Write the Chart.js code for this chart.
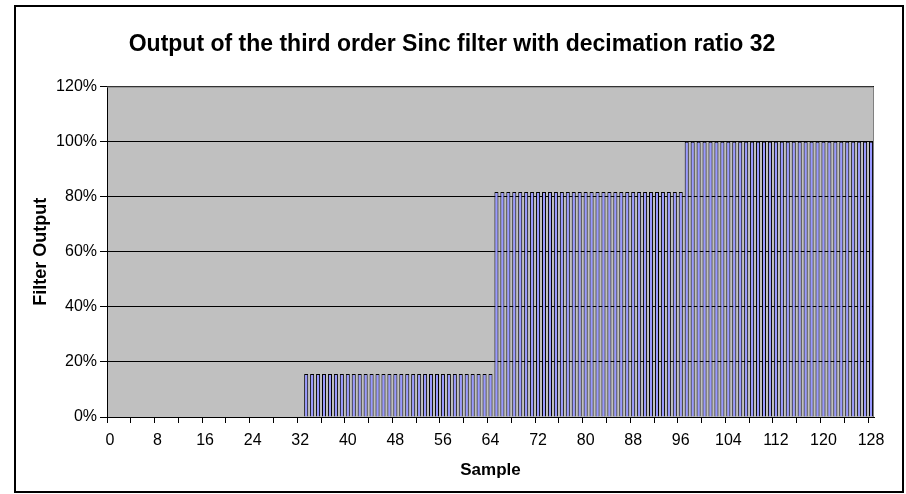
<!DOCTYPE html>
<html>
<head>
<meta charset="utf-8">
<script src="https://cdn.jsdelivr.net/npm/chart.js@4.4.1/dist/chart.umd.min.js"></script>
<style>
  html, body { margin: 0; padding: 0; background: #fff; }
  #wrap { width: 906px; height: 494px; position: relative; }
</style>
</head>
<body>
<div id="wrap"><canvas id="chart" width="906" height="494"></canvas></div>
<script>
// Sample index on the x axis (0 .. 128)
const samples = Array.from({ length: 129 }, (_, i) => i);

// Filter output per sample (fraction of full scale)
const filterOutput = [
  0, 0, 0, 0, 0, 0, 0, 0, 0, 0, 0, 0, 0, 0, 0, 0,
  0, 0, 0, 0, 0, 0, 0, 0, 0, 0, 0, 0, 0, 0, 0, 0,
  0,
  0.156, 0.156, 0.156, 0.156, 0.156, 0.156, 0.156, 0.156,
  0.156, 0.156, 0.156, 0.156, 0.156, 0.156, 0.156, 0.156,
  0.156, 0.156, 0.156, 0.156, 0.156, 0.156, 0.156, 0.156,
  0.156, 0.156, 0.156, 0.156, 0.156, 0.156, 0.156, 0.156,
  0.817, 0.817, 0.817, 0.817, 0.817, 0.817, 0.817, 0.817,
  0.817, 0.817, 0.817, 0.817, 0.817, 0.817, 0.817, 0.817,
  0.817, 0.817, 0.817, 0.817, 0.817, 0.817, 0.817, 0.817,
  0.817, 0.817, 0.817, 0.817, 0.817, 0.817, 0.817, 0.817,
  1, 1, 1, 1, 1, 1, 1, 1, 1, 1, 1, 1, 1, 1, 1, 1,
  1, 1, 1, 1, 1, 1, 1, 1, 1, 1, 1, 1, 1, 1, 1, 1,
];

// Labelled samples on the x axis
const xTickLabels = [0, 8, 16, 24, 32, 40, 48, 56, 64, 72, 80, 88, 96, 104, 112, 120, 128];

const font = "'Liberation Sans', Arial, sans-serif";

// grey plot area and the outer chart frame
const frame = {
  id: "frame",
  beforeDraw(chart) {
    const { ctx, chartArea: a } = chart;
    ctx.save();
    ctx.fillStyle = "#fff";
    ctx.fillRect(0, 0, chart.width, chart.height);
    ctx.fillStyle = "#c0c0c0";
    ctx.fillRect(a.left, a.top, a.right - a.left, a.bottom - a.top);
    ctx.restore();
  },
  afterDraw(chart) {
    const { ctx, chartArea: a } = chart;
    ctx.save();
    ctx.strokeStyle = "#808080";
    ctx.lineWidth = 1;
    ctx.beginPath();
    ctx.moveTo(a.left, a.top + 0.5);
    ctx.lineTo(a.right - 0.5, a.top + 0.5);
    ctx.lineTo(a.right - 0.5, a.bottom);
    ctx.stroke();
    ctx.strokeStyle = "#000";
    ctx.lineWidth = 2;
    ctx.strokeRect(15, 6, 888, 486);
    ctx.restore();
  },
};

new Chart(document.getElementById("chart"), {
  type: "bar",
  plugins: [frame],
  data: {
    labels: samples,
    datasets: [
      {
        data: filterOutput,
        backgroundColor: "#9999ff",
        borderColor: "#000",
        borderWidth: 1,
        barPercentage: 0.68,
        categoryPercentage: 1,
      },
    ],
  },
  options: {
    responsive: false,
    animation: false,
    layout: { padding: { left: 30, right: 32, top: 0, bottom: 0 } },
    plugins: {
      legend: { display: false },
      tooltip: { enabled: false },
      title: {
        display: true,
        text: "Output of the third order Sinc filter with decimation ratio 32",
        color: "#000",
        font: { family: font, size: 23, weight: "bold" },
        padding: { top: 31, bottom: 28 },
      },
    },
    scales: {
      x: {
        offset: true,
        afterFit: (scale) => { scale.height = 77; },
        grid: {
          offset: true,
          drawOnChartArea: false,
          tickLength: 6,
          tickColor: (ctx) => (ctx.index % 4 === 0 ? "#000" : "rgba(0,0,0,0)"),
        },
        border: { color: "#000", width: 1 },
        ticks: {
          autoSkip: false,
          maxRotation: 0,
          padding: 8,
          color: "#000",
          font: { family: font, size: 16 },
          callback: (v, i) => (xTickLabels.includes(samples[i]) ? String(samples[i]) : ""),
        },
        title: {
          display: true,
          text: "Sample",
          color: "#000",
          font: { family: font, size: 17, weight: "bold" },
          padding: { top: 0, bottom: 13 },
        },
      },
      y: {
        min: 0,
        max: 1.2,
        afterFit: (scale) => { scale.width = 77; },
        grid: { color: "#000", tickColor: "#000", tickLength: 7 },
        border: { color: "#000", width: 1 },
        ticks: {
          stepSize: 0.2,
          padding: 3,
          color: "#000",
          font: { family: font, size: 16 },
          callback: (v) => Math.round(v * 100) + "%",
        },
        title: {
          display: true,
          text: "Filter Output",
          color: "#000",
          font: { family: font, size: 18, weight: "bold" },
          padding: { top: 0, bottom: 0 },
        },
      },
    },
  },
});
</script>
</body>
</html>
